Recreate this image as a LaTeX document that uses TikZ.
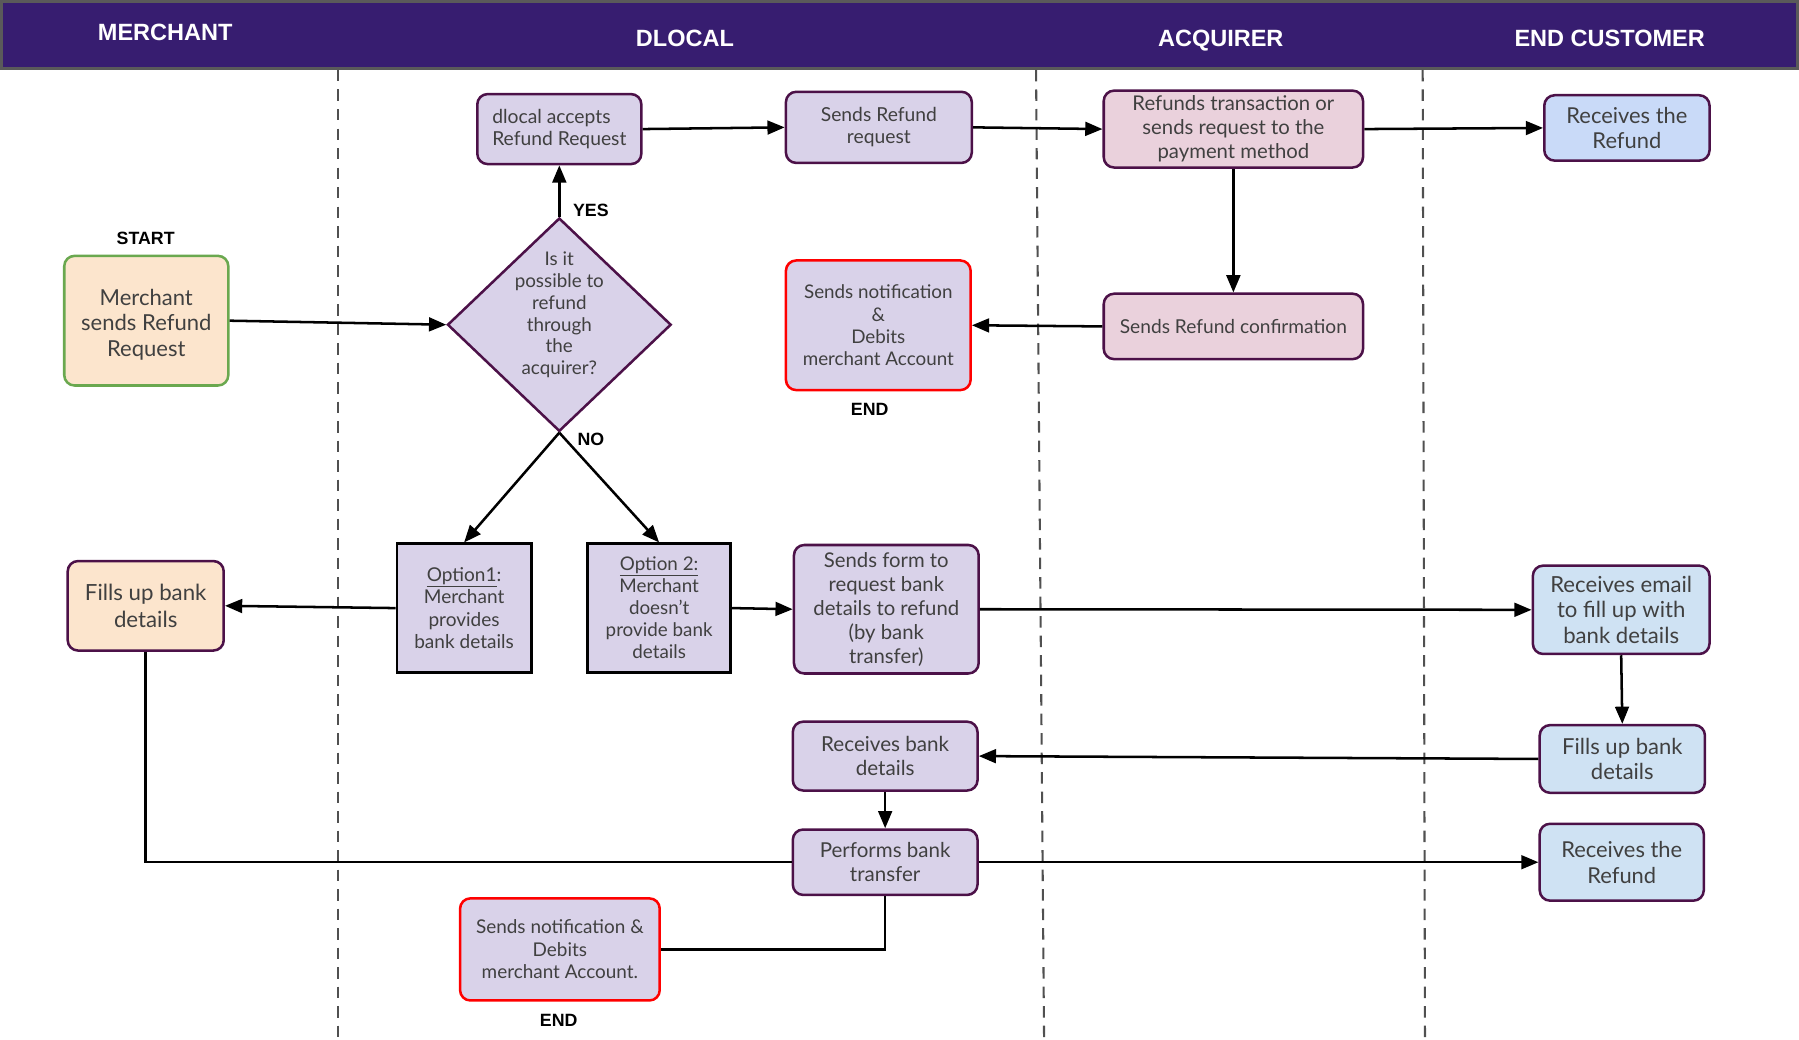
\documentclass[tikz,border=0pt]{standalone}
\usepackage{fontspec}
\setmainfont{Lato}
\newfontfamily\hfont{Liberation Sans}
\usetikzlibrary{shapes.geometric,arrows.meta}
\definecolor{hdr}{RGB}{55,29,112}
\definecolor{hdrborder}{RGB}{90,90,90}
\definecolor{bpurple}{RGB}{76,17,72}
\definecolor{lav}{RGB}{217,210,233}
\definecolor{peach}{RGB}{252,229,205}
\definecolor{pinkf}{RGB}{234,209,220}
\definecolor{blue1}{RGB}{201,218,248}
\definecolor{blue2}{RGB}{207,226,243}
\definecolor{gborder}{RGB}{106,168,79}
\definecolor{tgray}{RGB}{64,64,64}
\definecolor{lanec}{RGB}{80,80,80}
\begin{document}
\begin{tikzpicture}[x=1pt,y=-1pt,
  box/.style={rounded corners=9pt, draw=bpurple, line width=2.2pt, fill=lav, text=tgray, align=center, inner sep=0pt},
  sqbox/.style={draw=black, line width=2.4pt, fill=lav, text=tgray, align=center, inner sep=0pt},
  redbox/.style={box, draw=red},
  lane/.style={draw=lanec, line width=1.8pt, dash pattern=on 10pt off 7pt},
  arr/.style={line width=2.2pt, -{Triangle[length=15pt,width=12pt]}},
  plain/.style={line width=2.2pt},
  htxt/.style={text=white, anchor=base, font=\hfont\bfseries\fontsize{20.5}{24}\selectfont},
  lbl/.style={text=black, font=\hfont\bfseries\fontsize{15.5}{18}\selectfont},
  fs/.style={font=\fontsize{#1}{19.3}\selectfont}
]
\useasboundingbox (0,0) rectangle (1568,905.6);
% header
\fill[hdr] (1.2,1.2) rectangle (1566.5,59.8);
\draw[hdrborder, line width=2.4pt] (1.2,1.2) rectangle (1566.5,59.8);
\node[htxt] (hm) at (144,35.5) {MERCHANT};
\node[htxt] (hd) at (597,40.5) {DLOCAL};
\node[htxt] (ha) at (1064,40.5) {ACQUIRER};
\node[htxt] (he) at (1403,40.5) {END CUSTOMER};
% lanes
\coordinate (l1a) at (295,61); \coordinate (l1b) at (295,905.6);
\coordinate (l2a) at (903,61); \coordinate (l2b) at (910,905.6);
\coordinate (l3a) at (1240,61); \coordinate (l3b) at (1242,905.6);
\draw[lane] (l1a) -- (l1b);
\draw[lane] (l2a) -- (l2b);
\draw[lane] (l3a) -- (l3b);
% nodes
\node[box, fill=peach, draw=gborder, minimum width=143pt, minimum height=113pt] (merch) at (127.5,279.5) {};
\node[text=tgray, align=center, font=\fontsize{19.2}{22.5}\selectfont] (merchT) at (127.5,283) {Merchant\\sends Refund\\Request};
\node[lbl] (start) at (127,208) {START};
\node[diamond, draw=bpurple, line width=2.2pt, fill=lav, inner sep=0pt, minimum width=195pt, minimum height=186pt] (dia) at (487.5,283) {};
\node[text=tgray, align=center, font=\fontsize{16.4}{19}\selectfont] (diat) at (487.5,274.5) {Is it\\possible to\\refund\\through\\the\\acquirer?};
\node[box, font=\fontsize{16.8}{19}\selectfont, align=left, minimum width=143pt, minimum height=61pt] (dla) at (487.5,112.5) {dlocal accepts\\Refund Request};
\node[lbl] (yes) at (515,183) {YES};
\node[box, font=\fontsize{16.8}{19}\selectfont, minimum width=162pt, minimum height=62pt] (srr) at (766,111) {Sends Refund\\request};
\node[box, fill=pinkf, font=\fontsize{17.7}{21}\selectfont, minimum width=226pt, minimum height=67pt] (rt) at (1075,112.5) {Refunds transaction or\\sends request to the\\payment method};
\node[box, fill=blue1, font=\fontsize{19.1}{22}\selectfont, minimum width=144pt, minimum height=57pt] (rr1) at (1418,111.5) {Receives the\\Refund};
\node[redbox, font=\fontsize{16.4}{19.3}\selectfont, minimum width=161pt, minimum height=113pt] (sn1) at (765.5,283.5) {Sends notification\\\&\\Debits\\merchant Account};
\node[lbl] (end1) at (758,357) {END};
\node[box, fill=pinkf, font=\fontsize{16.7}{19}\selectfont, minimum width=226pt, minimum height=57pt] (src) at (1075,284.5) {Sends Refund confirmation};
\node[lbl] (no) at (515,383) {NO};
\node[sqbox, font=\fontsize{16.6}{19.3}\selectfont, minimum width=117pt, minimum height=112pt] (opt1) at (404.5,530) {\underline{Option1}:\\Merchant\\provides\\bank details};
\node[sqbox, font=\fontsize{16.4}{19.2}\selectfont, minimum width=125pt, minimum height=112pt] (opt2) at (574.5,530) {\underline{Option 2:}\\Merchant\\doesn’t\\provide bank\\details};
\node[box, fill=peach, font=\fontsize{19.4}{23}\selectfont, minimum width=136pt, minimum height=78pt] (fm) at (127,528) {Fills up bank\\details};
\node[box, font=\fontsize{17.7}{21}\selectfont, minimum width=161pt, minimum height=112pt] (sf) at (772.5,531) {Sends form to\\request bank\\details to refund\\(by bank\\transfer)};
\node[box, fill=blue2, font=\fontsize{19.3}{22.5}\selectfont, minimum width=154pt, minimum height=77pt] (re) at (1413,531.5) {Receives email\\to fill up with\\bank details};
\node[box, fill=blue2, font=\fontsize{19.2}{22}\selectfont, minimum width=144pt, minimum height=59pt] (fe) at (1414,661.5) {Fills up bank\\details};
\node[box, font=\fontsize{18}{21}\selectfont, minimum width=161pt, minimum height=60pt] (rb) at (771.5,659) {Receives bank\\details};
\node[box, font=\fontsize{17.9}{21}\selectfont, minimum width=161pt, minimum height=57pt] (pb) at (771.5,751.5) {Performs bank\\transfer};
\node[box, fill=blue2, font=\fontsize{19.1}{23}\selectfont, minimum width=143pt, minimum height=67pt] (rr2) at (1413.5,751.5) {Receives the\\Refund};
\node[redbox, font=\fontsize{16.5}{19.5}\selectfont, minimum width=174pt, minimum height=89pt] (sn2) at (488,827.5) {Sends notification \&\\Debits\\merchant Account.};
\node[lbl] (end2) at (487,889) {END};
% connectors
\draw[arr] (merch.east) -- (dia.west);
\draw[arr] (dia.north) -- (dla.south);
\draw[arr] (dla.east) -- (srr.west);
\draw[arr] (srr.east) -- (rt.west);
\draw[arr] (rt.east) -- (rr1.west);
\draw[arr] (rt.south) -- (src.north);
\draw[arr] (src.west) -- (sn1.east);
\draw[arr] (dia.south) -- (opt1.north);
\draw[arr] (dia.south) -- (opt2.north);
\draw[arr] (opt1.west) -- (fm.east);
\draw[arr] (opt2.east) -- (sf.west);
\draw[arr] (sf.east) -- (re.west);
\draw[arr] (re.south) -- (fe.north);
\draw[arr] (fe.west) -- (rb.east);
\draw[arr] (rb.south) -- (pb.north);
\draw[arr] (pb.east) -- (rr2.west);
\draw[plain] (fm.south) |- (pb.west);
\draw[plain] (pb.south) |- (sn2.east);
\end{tikzpicture}
\end{document}
